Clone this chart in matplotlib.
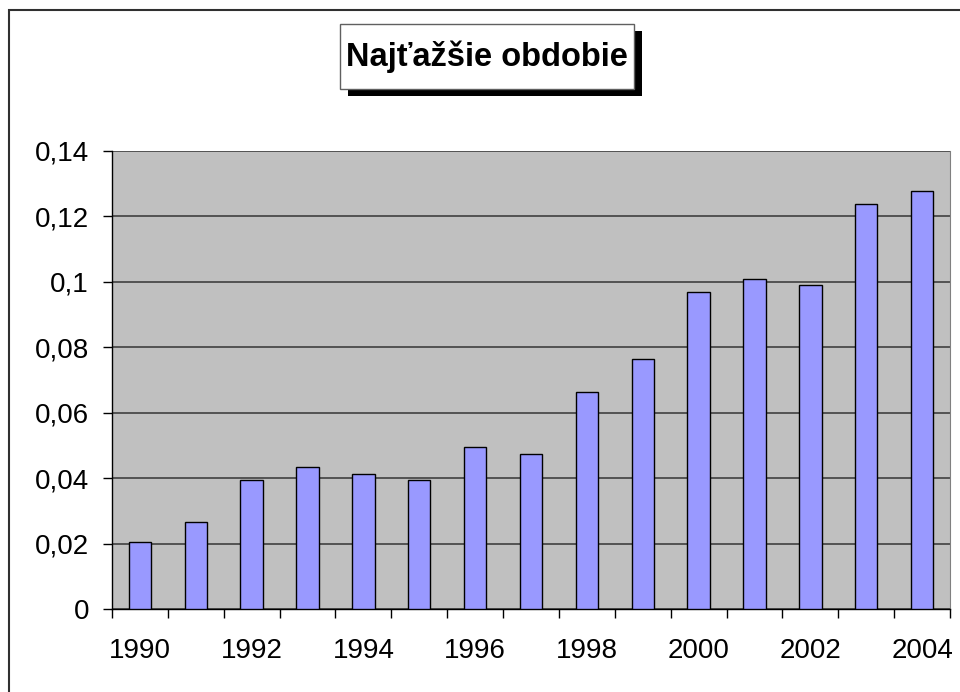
import matplotlib
matplotlib.use("Agg")
import matplotlib.pyplot as plt
from matplotlib.patches import Rectangle

plt.rcParams['font.family'] = ['Liberation Sans', 'DejaVu Sans']

years = list(range(1990, 2005))
values = [0.0206, 0.0266, 0.0393, 0.0433, 0.0414, 0.0393, 0.0494, 0.0474,
          0.0662, 0.0763, 0.0970, 0.1010, 0.0990, 0.1239, 0.1279]
ytick_vals = [0, 0.02, 0.04, 0.06, 0.08, 0.1, 0.12, 0.14]
ytick_labels = ["0", "0,02", "0,04", "0,06", "0,08", "0,1", "0,12", "0,14"]
title = "Najťažšie obdobie"

W, H = 960, 692
fig = plt.figure(figsize=(W / 100, H / 100), dpi=100)

# outer chart border (right/bottom edges fall off the canvas)
fig.patches.append(Rectangle((9 / W, -0.1), 1.2, (H - 10) / H + 0.1,
                             transform=fig.transFigure, fill=False,
                             edgecolor="#303030", linewidth=1.5))

ax = fig.add_axes([112 / W, (H - 609) / H, (950 - 112) / W, (609 - 151) / H])
ax.set_facecolor("#c0c0c0")

x = list(range(len(years)))
ax.bar(x, values, width=0.4, color="#9999ff", edgecolor="black", linewidth=1, zorder=3)

ax.set_xlim(-0.5, len(years) - 0.5)
ax.set_ylim(0, 0.14)
ax.set_yticks(ytick_vals)
ax.set_yticklabels(ytick_labels)
ax.yaxis.grid(True, color="#404040", linewidth=1.2, zorder=1)

# tick marks between categories, labels on every other year
ax.set_xticks([i - 0.5 for i in range(len(years) + 1)])
ax.set_xticklabels([])
ax.set_xticks([i for i in x if years[i] % 2 == 0], minor=True)
ax.set_xticklabels([str(years[i]) for i in x if years[i] % 2 == 0], minor=True)
ax.tick_params(axis="x", which="major", length=6.5, width=1, direction="out")
ax.tick_params(axis="x", which="minor", length=0, pad=21, labelsize=20)
ax.tick_params(axis="y", length=6.5, width=1, direction="out", pad=10, labelsize=20)

for s in ["left", "bottom"]:
    ax.spines[s].set_color("black")
    ax.spines[s].set_linewidth(1)
ax.spines["top"].set_visible(False)
ax.spines["right"].set_color("#808080")

# title box with drop shadow
bx0, by0, bx1, by1 = 340, 24, 634, 89
fig.patches.append(Rectangle(((bx0 + 8) / W, (H - by1 - 7) / H), (bx1 - bx0) / W, (by1 - by0) / H,
                             transform=fig.transFigure, facecolor="black", edgecolor="none", zorder=1))
fig.patches.append(Rectangle((bx0 / W, (H - by1) / H), (bx1 - bx0) / W, (by1 - by0) / H,
                             transform=fig.transFigure, facecolor="white", edgecolor="#606060",
                             linewidth=1, zorder=2))
fig.text((bx0 + bx1) / 2 / W, (H - (by0 + by1) / 2) / H, title, ha="center", va="center",
         fontsize=23.5, fontweight="bold", zorder=3)

fig.savefig("out.png", dpi=100)
